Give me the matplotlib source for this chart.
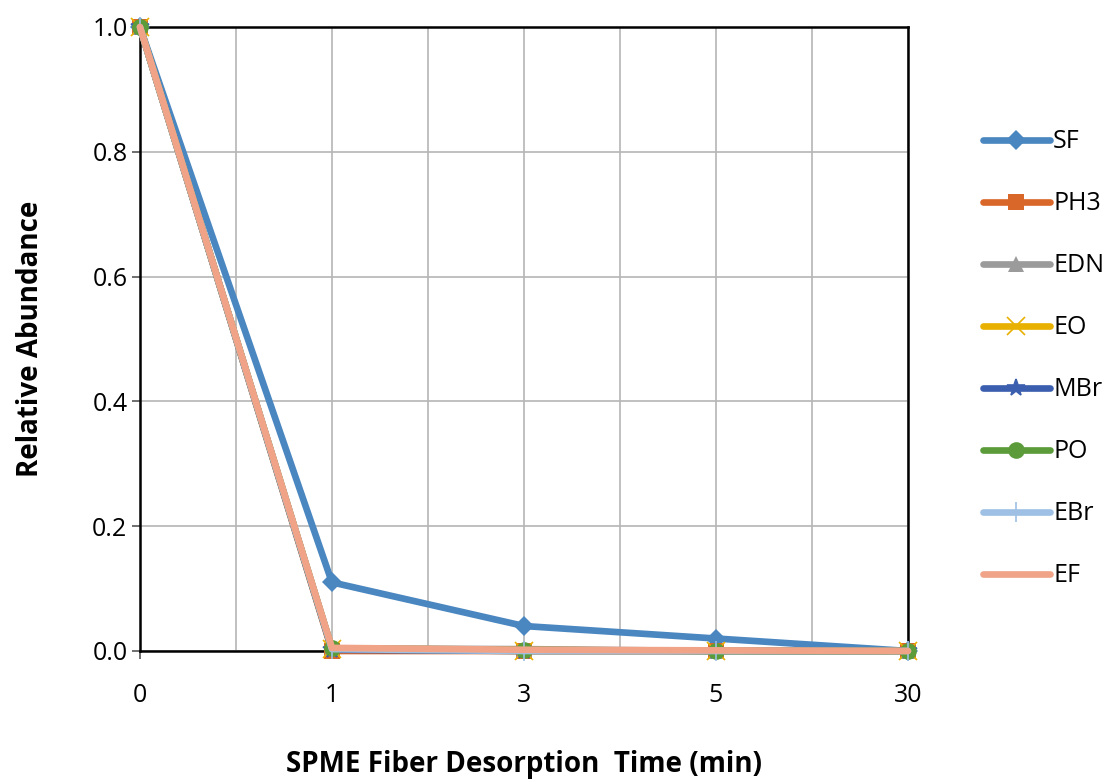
import matplotlib.pyplot as plt
import numpy as np

plt.rcParams['font.family'] = ['Open Sans', 'DejaVu Sans']

times = ['0', '1', '3', '5', '30']
series = ['SF', 'PH3', 'EDN', 'EO', 'MBr', 'PO', 'EBr', 'EF']
values = {
    'SF':  [1.0, 0.11, 0.04, 0.02, 0.0],
    'PH3': [1.0, 0.0, 0.0, 0.0, 0.0],
    'EDN': [1.0, 0.004, 0.003, 0.0, 0.0],
    'EO':  [1.0, 0.003, 0.0, 0.0, 0.0],
    'MBr': [1.0, 0.002, 0.0, 0.0, 0.0],
    'PO':  [1.0, 0.004, 0.002, 0.0, 0.0],
    'EBr': [1.0, 0.003, 0.0, 0.0, 0.0],
    'EF':  [1.0, 0.005, 0.002, 0.001, 0.0],
}
colors = ['#4a86c0', '#d9672a', '#9b9b9b', '#e8b000', '#3b5fae', '#5b9b3a', '#9dc0e4', '#f0a386']
markers = ['D', 's', '^', 'x', '*', 'o', '|', None]
msizes = [10, 12, 12, 13, 13, 12, 14, 0]

fig = plt.figure(figsize=(11.16, 7.8), dpi=100)
ax = fig.add_axes([0.1254, 0.1654, 0.6882, 0.8])

x = np.arange(len(times))
for i, name in enumerate(series):
    m = markers[i]
    kw = dict(color=colors[i], lw=4.8, label=name, zorder=3 + i,
              solid_capstyle='round', clip_on=False)
    if m is not None:
        if m in ('x', '*', '|'):
            kw.update(marker=m, markersize=msizes[i], markeredgewidth=1.2)
        else:
            kw.update(marker=m, markersize=msizes[i], markeredgewidth=0)
    ax.plot(x, values[name], **kw)

ax.set_xlim(0, 4)
ax.set_ylim(0, 1.0)
ax.set_xticks(x)
ax.set_xticklabels(times)
ax.set_xticks(np.arange(0.5, 4, 1), minor=True)
ax.set_yticks(np.arange(0, 1.01, 0.2))
ax.set_yticklabels(['%.1f' % v for v in np.arange(0, 1.01, 0.2)])
ax.grid(True, which='both', color='#b5b5b5', lw=1.2)
ax.tick_params(which='minor', length=0)
ax.tick_params(which='major', length=6, width=1.2, labelsize=18, color='#555555')
ax.tick_params(axis='x', pad=17)
ax.tick_params(axis='y', pad=3)
for s in ax.spines.values():
    s.set_color('black')
    s.set_linewidth(1.8)

ax.set_xlabel('SPME Fiber Desorption  Time (min)', fontsize=20, fontweight='bold', labelpad=30)
ax.set_ylabel('Relative Abundance', fontsize=20, fontweight='bold', labelpad=34)

leg = ax.legend(loc='upper left', bbox_to_anchor=(1.068, 0.872), frameon=False,
                fontsize=18, handlelength=2.7, labelspacing=1.48, handletextpad=0.12)

fig.savefig('out.png', dpi=100)
